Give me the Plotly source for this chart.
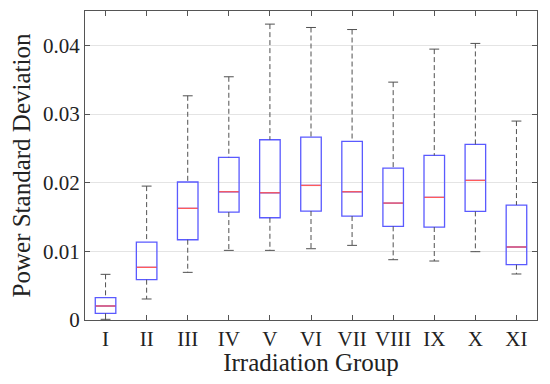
import plotly.graph_objects as go

groups = ["I", "II", "III", "IV", "V", "VI", "VII", "VIII", "IX", "X", "XI"]
upper = [0.00665, 0.0195, 0.03265, 0.03542, 0.04309, 0.0426, 0.0423, 0.03464, 0.03945, 0.04028, 0.02897]
q3 = [0.00325, 0.01135, 0.0201, 0.02368, 0.02625, 0.02664, 0.0260, 0.02213, 0.02397, 0.02557, 0.01674]
median = [0.00204, 0.00767, 0.01626, 0.01868, 0.01853, 0.0196, 0.01868, 0.01703, 0.01786, 0.02033, 0.01063]
q1 = [0.00097, 0.00587, 0.01169, 0.01572, 0.01489, 0.01587, 0.01514, 0.01364, 0.01354, 0.01582, 0.00805]
lower = [0.0001, 0.00306, 0.00694, 0.01014, 0.01014, 0.01038, 0.01087, 0.00878, 0.00859, 0.00995, 0.0067]

pos = list(range(1, len(groups) + 1))
half_box = 0.25
half_cap = 0.12

BLUE = "rgb(90,90,255)"
RED = "rgb(255,90,90)"
GRAY = "rgb(80,80,80)"

fig = go.Figure()

# whiskers (dashed)
wx, wy = [], []
for p, lo, a, b, hi in zip(pos, lower, q1, q3, upper):
    wx += [p, p, None, p, p, None]
    wy += [hi, b, None, a, lo, None]
fig.add_trace(go.Scatter(x=wx, y=wy, mode="lines", line=dict(color=GRAY, width=1, dash="5px,3px"),
                         hoverinfo="skip", showlegend=False))
# caps
cx, cy = [], []
for p, lo, hi in zip(pos, lower, upper):
    cx += [p - half_cap, p + half_cap, None, p - half_cap, p + half_cap, None]
    cy += [hi, hi, None, lo, lo, None]
fig.add_trace(go.Scatter(x=cx, y=cy, mode="lines", line=dict(color=GRAY, width=1),
                         hoverinfo="skip", showlegend=False))

# boxes
fig.add_trace(go.Box(x=pos, q1=q1, median=median, q3=q3, lowerfence=q1, upperfence=q3,
                     width=2 * half_box, line=dict(color=BLUE, width=1.3),
                     fillcolor="rgba(0,0,0,0)", whiskerwidth=0, boxpoints=False,
                     hoverinfo="skip", showlegend=False))

# medians (red)
mx, my = [], []
for p, m in zip(pos, median):
    mx += [p - half_box + 0.01, p + half_box - 0.01, None]
    my += [m, m, None]
fig.add_trace(go.Scatter(x=mx, y=my, mode="lines", line=dict(color=RED, width=1.3),
                         hoverinfo="skip", showlegend=False))

font = dict(family="Liberation Serif, Times New Roman, serif", size=21, color="#222")

# page body has an 8px default margin; size the figure to fit within the 550x384 window
fig.update_layout(
    width=534, height=368,
    margin=dict(l=77, r=5, t=3, b=56),
    paper_bgcolor="white", plot_bgcolor="white",
    font=font,
    showlegend=False,
    xaxis=dict(range=[0.5, 11.5], tickmode="array", tickvals=pos, ticktext=groups,
               ticks="inside", ticklen=5, tickcolor="#555", showline=True, linecolor="#555",
               linewidth=1, mirror="ticks", showgrid=False, zeroline=False,
               title=dict(text="Irradiation Group", standoff=2), tickfont=font),
    yaxis=dict(range=[0, 0.045], tickmode="array", tickvals=[0, 0.01, 0.02, 0.03, 0.04],
               ticktext=["0", "0.01", "0.02", "0.03", "0.04"],
               ticks="inside", ticklen=5, tickcolor="#555", showline=True, linecolor="#555",
               linewidth=1, mirror="ticks", showgrid=True, gridcolor="rgb(228,228,228)",
               zeroline=False, title=dict(text="Power Standard Deviation", standoff=8),
               tickfont=font),
)

fig.write_html("out.html")
